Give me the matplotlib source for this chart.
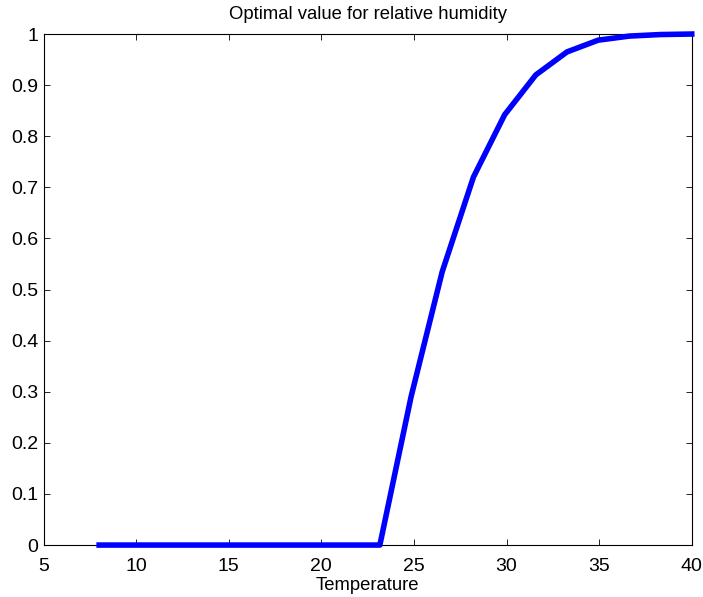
import numpy as np
import matplotlib
matplotlib.use('Agg')
import matplotlib.pyplot as plt

temperature = np.linspace(8, 40, 20)
humidity = [0, 0, 0, 0, 0, 0, 0, 0, 0, 0,
	0.29, 0.535, 0.72, 0.842, 0.92, 0.965, 0.988, 0.996, 0.999, 1.0]

plt.rcParams['font.family'] = ['Liberation Sans', 'DejaVu Sans']
plt.rcParams['font.size'] = 14

fig = plt.figure(figsize=(7.03, 5.97), dpi=100)
ax = fig.add_axes([0.062, 0.087, 0.922, 0.856])

ax.plot(temperature, humidity, color='#0000ff', linewidth=4, clip_on=False, zorder=3)

ax.set_xlim(5, 40)
ax.set_ylim(0, 1)
ax.set_xticks(range(5, 41, 5))
ax.set_yticks(np.round(np.arange(0, 1.01, 0.1), 1))
ax.set_yticklabels(['0', '0.1', '0.2', '0.3', '0.4', '0.5', '0.6', '0.7', '0.8', '0.9', '1'])
ax.tick_params(direction='in', top=True, right=True, length=4, width=0.6, labelsize=14)
ax.tick_params(axis='x', pad=9)
ax.tick_params(axis='y', pad=4)
for s in ax.spines.values():
	s.set_linewidth(0.8)

ax.set_xlabel('Temperature', fontsize=13.3, labelpad=2)
ax.set_title('Optimal value for relative humidity', fontsize=13.3, pad=11)

fig.savefig('out.png', dpi=100)
